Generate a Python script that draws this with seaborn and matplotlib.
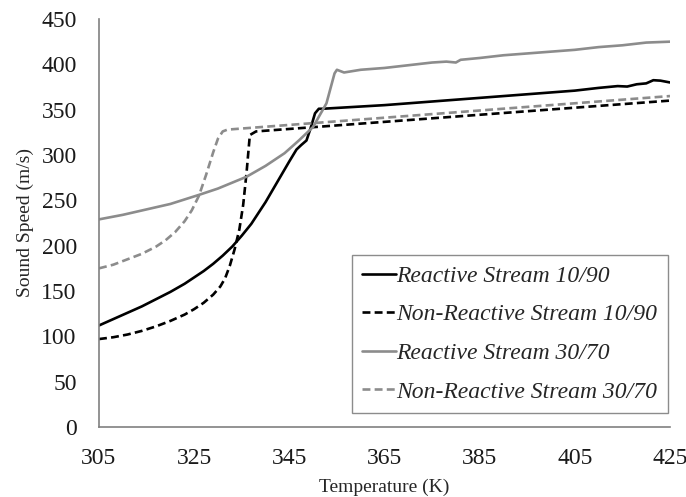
import numpy as np
import pandas as pd
import matplotlib
matplotlib.use("Agg")
import matplotlib.pyplot as plt
from matplotlib.ticker import FixedLocator
import seaborn as sns

# Data
r1090_T = [305, 308, 311, 314, 317, 320, 323, 325, 327, 329, 331, 333, 335, 337, 340, 343, 345,
           346.5, 347.5, 348.6, 349.5, 350.4, 351.2, 352,
           365, 375, 385, 395, 405, 410, 414, 416, 418, 420, 421.5, 423, 425]
r1090_c = [112, 119, 126, 133, 141, 149, 158, 165, 172, 180, 189, 199, 211, 224, 248, 275, 293,
           306, 311, 316, 330, 346, 351, 351,
           355, 359, 363, 367, 371, 374, 376, 375.5, 378, 379, 382.5, 382, 380]

n1090_T = [305, 308, 311, 314, 317, 320, 323, 325, 327, 329, 330.5, 331.5, 332.5, 333.5, 334.5,
           335.3, 336, 336.7, 338, 425]
n1090_c = [97, 99, 102, 106, 111, 117, 124, 130, 137, 146, 155, 164, 178, 196, 218,
           245, 280, 322, 326, 360]

r3070_T = [305, 310, 315, 320, 326, 330, 336, 340, 344, 347, 350, 352.8, 354.5, 355, 356.5, 360,
           365, 370, 375, 378, 380, 381, 385, 390, 395, 400, 405, 410, 415, 420, 425]
r3070_c = [229, 234, 240, 246, 256, 263, 276, 288, 302, 316, 331, 357, 390, 394, 391, 394,
           396, 399, 402, 403, 402, 405, 407, 410, 412, 414, 416, 419, 421, 424, 425]

n3070_T = [305, 308, 311, 314, 317, 319, 321, 323, 324.5, 326, 327.5, 329, 330, 331, 332, 425]
n3070_c = [175, 179, 185, 191, 199, 206, 215, 227, 239, 255, 278, 303, 318, 326, 328, 365]

x_ticks = [305, 325, 345, 365, 385, 405, 425]
y_ticks = [0, 50, 100, 150, 200, 250, 300, 350, 400, 450]

labels = ["Reactive Stream 10/90", "Non-Reactive Stream 10/90",
          "Reactive Stream 30/70", "Non-Reactive Stream 30/70"]

frames = []
for lab, T, c in zip(labels, [r1090_T, n1090_T, r3070_T, n3070_T],
                     [r1090_c, n1090_c, r3070_c, n3070_c]):
    frames.append(pd.DataFrame({"Temperature": T, "Speed": c, "Series": lab}))
df = pd.concat(frames, ignore_index=True)

sns.set_style("white")
plt.rcParams["font.family"] = ["Liberation Serif", "DejaVu Serif"]

fig = plt.figure(figsize=(6.86, 4.97), dpi=100)
ax = fig.add_axes([99 / 686, 1 - 427 / 497, 571 / 686, 408 / 497])

palette = {labels[0]: "black", labels[1]: "black", labels[2]: "#8c8c8c", labels[3]: "#8c8c8c"}
dashes = {labels[0]: "", labels[1]: (3, 1.6), labels[2]: "", labels[3]: (3, 1.6)}
sns.lineplot(data=df, x="Temperature", y="Speed", hue="Series", style="Series",
             palette=palette, dashes=dashes, hue_order=labels, style_order=labels,
             sort=False, estimator=None, linewidth=1.9, ax=ax)

ax.set_xlim(305, 425)
ax.set_ylim(0, 450)
ax.xaxis.set_major_locator(FixedLocator(x_ticks))
ax.xaxis.set_minor_locator(FixedLocator(np.arange(305, 426, 5)))
ax.yaxis.set_major_locator(FixedLocator(y_ticks))
ax.yaxis.set_minor_locator(FixedLocator(np.arange(0, 451, 25)))
ax.tick_params(axis="both", which="both", direction="out", color="#808080",
               length=6, width=1, labelsize=17, labelcolor="#1a1a1a")
ax.tick_params(axis="x", which="major", pad=9)
ax.tick_params(axis="y", which="major", pad=10)
for s in ["top", "right"]:
    ax.spines[s].set_visible(False)
for s in ["left", "bottom"]:
    ax.spines[s].set_color("#808080")
    ax.spines[s].set_linewidth(1.2)

ax.set_xlabel("Temperature (K)", fontsize=14, labelpad=7)
ax.set_ylabel("Sound Speed (m/s)", fontsize=14, labelpad=5)

leg = ax.legend(loc="lower right", bbox_to_anchor=(0.9965, 0.034), borderaxespad=0.0,
                prop={"style": "italic", "size": 17},
                frameon=True, fancybox=False, handlelength=1.45, handletextpad=0.0,
                borderpad=0.45, labelspacing=0.72, edgecolor="#707070")
leg.get_frame().set_linewidth(1.0)

fig.savefig("out.png", dpi=100)
